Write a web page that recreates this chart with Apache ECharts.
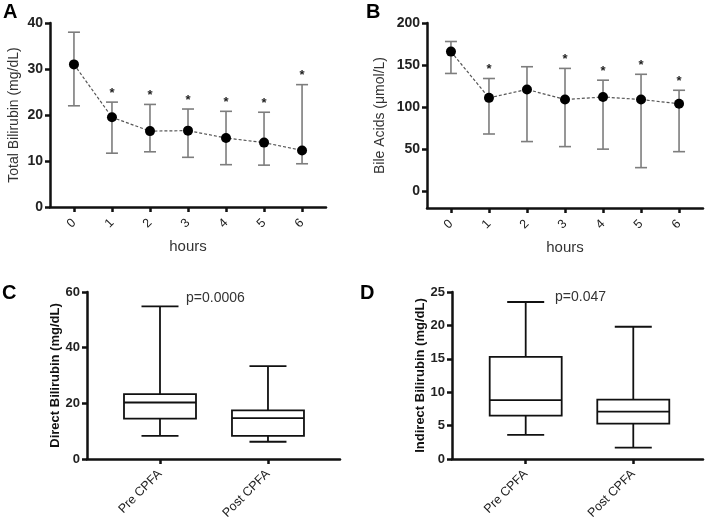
<!DOCTYPE html>
<html><head><meta charset="utf-8">
<script src="https://cdn.jsdelivr.net/npm/echarts@6/dist/echarts.min.js"></script>
<style>html,body{margin:0;padding:0;background:#fff}#c{width:707px;height:522px}</style>
</head><body><div id="c"></div>
<script>
// ---------- data ----------
const hours = [0, 1, 2, 3, 4, 5, 6];
const hourTicks = [0, 1, 2, 3, 4, 5, 6];
const bilirubinMean = [31, 19.5, 16.5, 16.6, 15, 14, 12.3];
const bilirubinLow  = [22, 11.7, 12, 10.8, 9.2, 9.1, 9.4];
const bilirubinHigh = [38, 22.8, 22.3, 21.3, 20.8, 20.6, 26.6];
const bilirubinSig  = [0, 1, 1, 1, 1, 1, 1];
const bilirubinTicks = [0, 10, 20, 30, 40];

const bileMean = [166, 111, 121, 109, 112, 109, 104];
const bileLow  = [140, 68, 59, 53, 50, 28, 47];
const bileHigh = [178, 134, 148, 146, 132, 139, 120];
const bileSig  = [0, 1, 0, 1, 1, 1, 1];
const bileTicks = [0, 50, 100, 150, 200];

const groups = ['Pre CPFA', 'Post CPFA'];
// min, q1, median, q3, max
const directPre  = [8.3, 14.5, 20.3, 23.3, 54.8];
const directPost = [6.2, 8.3, 14.7, 17.5, 33.4];
const directTicks = [0, 20, 40, 60];
const indirectPre  = [3.6, 6.5, 8.8, 15.3, 23.5];
const indirectPost = [1.7, 5.3, 7.1, 8.9, 19.8];
const indirectTicks = [0, 5, 10, 15, 20, 25];

// ---------- helpers ----------
const FONT = 'Liberation Sans, Arial, sans-serif';
const AX = '#111';

function errRender(params, api) {
  const x = api.value(0), lo = api.value(1), hi = api.value(2), sig = api.value(3);
  const pl = api.coord([x, lo]), ph = api.coord([x, hi]);
  const hw = 6;
  const st = { stroke: '#7d7d7d', lineWidth: 1.6 };
  const ch = [
    { type: 'line', shape: { x1: pl[0], y1: pl[1], x2: ph[0], y2: ph[1] }, style: st },
    { type: 'line', shape: { x1: pl[0] - hw, y1: pl[1], x2: pl[0] + hw, y2: pl[1] }, style: st },
    { type: 'line', shape: { x1: ph[0] - hw, y1: ph[1], x2: ph[0] + hw, y2: ph[1] }, style: st }
  ];
  if (sig) ch.push({ type: 'text', x: ph[0], y: ph[1] - 9,
    style: { text: '*', fill: '#222', font: 'bold 13px ' + FONT, align: 'center', verticalAlign: 'middle' } });
  return { type: 'group', children: ch };
}

function boxRender(params, api) {
  const x = api.value(0);
  const p = [1, 2, 3, 4, 5].map(i => api.coord([x, api.value(i)]));
  const cx = p[0][0];
  const bw = 36, cw = 18.5;
  const st = { stroke: '#111', lineWidth: 1.8, fill: null };
  return { type: 'group', children: [
    { type: 'rect', shape: { x: cx - bw, y: p[3][1], width: 2 * bw, height: p[1][1] - p[3][1] }, style: st },
    { type: 'line', shape: { x1: cx - bw, y1: p[2][1], x2: cx + bw, y2: p[2][1] }, style: st },
    { type: 'line', shape: { x1: cx, y1: p[0][1], x2: cx, y2: p[1][1] }, style: st },
    { type: 'line', shape: { x1: cx, y1: p[3][1], x2: cx, y2: p[4][1] }, style: st },
    { type: 'line', shape: { x1: cx - cw, y1: p[0][1], x2: cx + cw, y2: p[0][1] }, style: st },
    { type: 'line', shape: { x1: cx - cw, y1: p[4][1], x2: cx + cw, y2: p[4][1] }, style: st }
  ]};
}

function yAxisCfg(gi, min, max, ticks, name, gap, nameFont, labelFont) {
  return {
    type: 'value', gridIndex: gi, min: min, max: max,
    name: name, nameLocation: 'middle', nameRotate: 90, nameGap: gap,
    nameTextStyle: nameFont,
    axisLine: { show: true, onZero: false, lineStyle: { color: AX, width: 2.5 } },
    axisTick: { show: true, length: 5, lineStyle: { color: AX, width: 2.5 }, customValues: ticks },
    axisLabel: { customValues: ticks, margin: 7, color: '#222', fontFamily: FONT, fontWeight: 'bold', fontSize: labelFont },
    splitLine: { show: false }
  };
}

function xAxisCfg(gi, min, max, ticks, fmt, name, labelMargin) {
  return {
    type: 'value', gridIndex: gi, min: min, max: max,
    name: name, nameLocation: 'middle', nameGap: 32,
    nameTextStyle: { fontFamily: FONT, fontSize: 15, color: '#333' },
    axisLine: { show: true, onZero: false, lineStyle: { color: AX, width: 2.5 } },
    axisTick: { show: true, length: 5, lineStyle: { color: AX, width: 2.5 }, customValues: ticks },
    axisLabel: { customValues: ticks, rotate: 45, margin: labelMargin, color: '#222', fontFamily: FONT, fontSize: 12.5,
      formatter: fmt },
    splitLine: { show: false }
  };
}

const nameA = { fontFamily: FONT, fontSize: 14, color: '#333' };
const nameC = { fontFamily: FONT, fontSize: 13, color: '#111', fontWeight: 'bold' };

const option = {
  animation: false,
  backgroundColor: '#fff',
  grid: [
    { left: 50, right: 381, top: 23, bottom: 315 },
    { left: 427, right: 4, top: 23, bottom: 314 },
    { left: 87, right: 367, top: 292, bottom: 63 },
    { left: 452, right: 4, top: 292, bottom: 63 }
  ],
  xAxis: [
    xAxisCfg(0, -0.63, 6.63, hourTicks, v => String(v), 'hours', 14),
    xAxisCfg(1, -0.63, 6.63, hourTicks, v => String(v), 'hours', 14),
    xAxisCfg(2, -0.676, 1.667, [0, 1], v => groups[v], '', 13),
    xAxisCfg(3, -0.685, 1.648, [0, 1], v => groups[v], '', 13)
  ],
  yAxis: [
    yAxisCfg(0, 0, 40, bilirubinTicks, 'Total Bilirubin (mg/dL)', 29, nameA, 14),
    yAxisCfg(1, -20, 200, bileTicks, 'Bile Acids (μmol/L)', 40, nameA, 14),
    yAxisCfg(2, 0, 60, directTicks, 'Direct Bilirubin (mg/dL)', 25, nameC, 13),
    yAxisCfg(3, 0, 25, indirectTicks, 'Indirect Bilirubin (mg/dL)', 24, nameC, 13)
  ],
  series: [
    { type: 'custom', xAxisIndex: 0, yAxisIndex: 0, renderItem: errRender,
      data: hours.map((h, i) => [h, bilirubinLow[i], bilirubinHigh[i], bilirubinSig[i]]), z: 2 },
    { type: 'line', xAxisIndex: 0, yAxisIndex: 0, data: hours.map((h, i) => [h, bilirubinMean[i]]),
      symbol: 'circle', symbolSize: 10, itemStyle: { color: '#000' },
      lineStyle: { color: '#555', width: 1.2, type: [3, 2] }, z: 3 },
    { type: 'custom', xAxisIndex: 1, yAxisIndex: 1, renderItem: errRender,
      data: hours.map((h, i) => [h, bileLow[i], bileHigh[i], bileSig[i]]), z: 2 },
    { type: 'line', xAxisIndex: 1, yAxisIndex: 1, data: hours.map((h, i) => [h, bileMean[i]]),
      symbol: 'circle', symbolSize: 10, itemStyle: { color: '#000' },
      lineStyle: { color: '#555', width: 1.2, type: [3, 2] }, z: 3 },
    { type: 'custom', xAxisIndex: 2, yAxisIndex: 2, renderItem: boxRender,
      data: [[0].concat(directPre), [1].concat(directPost)] },
    { type: 'custom', xAxisIndex: 3, yAxisIndex: 3, renderItem: boxRender,
      data: [[0].concat(indirectPre), [1].concat(indirectPost)] }
  ],
  graphic: [
    { type: 'text', left: 3, top: 2, style: { text: 'A', font: 'bold 20px ' + FONT, fill: '#000' } },
    { type: 'text', left: 366, top: 2, style: { text: 'B', font: 'bold 20px ' + FONT, fill: '#000' } },
    { type: 'text', left: 2, top: 283, style: { text: 'C', font: 'bold 20px ' + FONT, fill: '#000' } },
    { type: 'text', left: 360, top: 283, style: { text: 'D', font: 'bold 20px ' + FONT, fill: '#000' } },
    { type: 'text', left: 186, top: 291, style: { text: 'p=0.0006', font: '14px ' + FONT, fill: '#333' } },
    { type: 'text', left: 555, top: 290, style: { text: 'p=0.047', font: '14px ' + FONT, fill: '#333' } }
  ]
};

const chart = echarts.init(document.getElementById('c'), null, { renderer: 'canvas' });
chart.setOption(option);
</script>
</body></html>
